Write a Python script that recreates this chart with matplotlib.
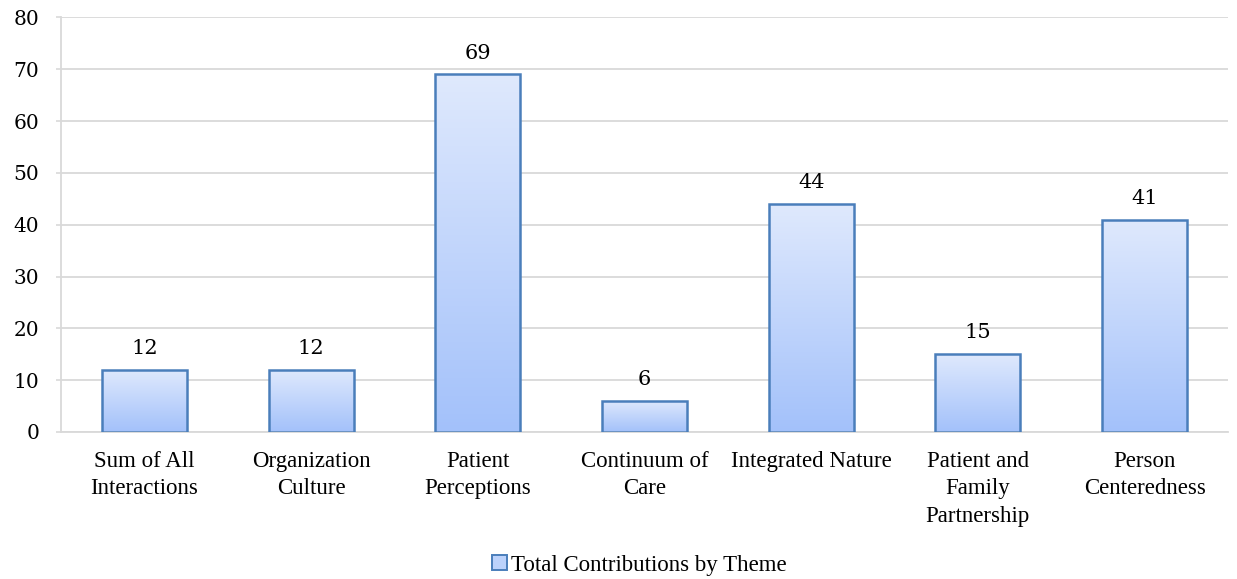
import matplotlib.pyplot as plt
import numpy as np
from matplotlib.patches import Rectangle
from matplotlib.colors import LinearSegmentedColormap

categories = ['Sum of All\nInteractions', 'Organization\nCulture', 'Patient\nPerceptions',
              'Continuum of\nCare', 'Integrated Nature', 'Patient and\nFamily\nPartnership',
              'Person\nCenteredness']
values = [12, 12, 69, 6, 44, 15, 41]
legend_label = 'Total Contributions by Theme'
y_ticks = [0, 10, 20, 30, 40, 50, 60, 70, 80]

plt.rcParams['font.family'] = ['Liberation Serif', 'DejaVu Serif']
num_font = 'DejaVu Serif'

fig = plt.figure(figsize=(12.37, 5.79), dpi=100)
ax = fig.add_axes([0.0493, 0.2539, 0.9434, 0.7159])

grad = LinearSegmentedColormap.from_list('bar', ['#A3C1FA', '#DFE9FD'])
edge = '#4A7EBB'

x = np.arange(len(values))
bars = ax.bar(x, values, width=0.51, facecolor='none', edgecolor=edge, linewidth=1.8, zorder=3)

# vertical gradient fill for each bar
g = np.linspace(0, 1, 256).reshape(-1, 1)
for b in bars:
    x0, y0 = b.get_x(), b.get_y()
    w, h = b.get_width(), b.get_height()
    im = ax.imshow(g, extent=[x0, x0 + w, y0, y0 + h], origin='lower', cmap=grad,
                   aspect='auto', zorder=2)
    im.set_clip_path(b)

for xi, v in zip(x, values):
    ax.annotate(str(v), (xi, v), xytext=(0, 8.5), textcoords='offset points',
                ha='center', va='bottom', fontsize=15, family=num_font)

ax.set_xlim(-0.5, len(values) - 0.5)
ax.set_ylim(0, 80)
ax.set_yticks(y_ticks)
ax.set_yticklabels([str(t) for t in y_ticks], family=num_font)
ax.set_xticks(x)
ax.set_xticklabels(categories, fontsize=16.5, linespacing=1.42)
ax.tick_params(axis='x', length=0, pad=13.5)
ax.tick_params(axis='y', length=3.6, color='#D9D9D9', width=1.2, labelsize=14.5, pad=12)
ax.yaxis.grid(True, color='#D9D9D9', linewidth=1.3, zorder=0)
ax.set_axisbelow(True)
for s in ['top', 'right']:
    ax.spines[s].set_visible(False)
for s in ['left', 'bottom']:
    ax.spines[s].set_color('#D9D9D9')
    ax.spines[s].set_linewidth(1.3)

handle = Rectangle((0, 0), 1, 1, facecolor='#BCD2FB', edgecolor=edge, linewidth=1.4)
fig.legend([handle], [legend_label], loc='center', bbox_to_anchor=(0.517, 0.024),
           frameon=False, fontsize=16.5, handlelength=0.65, handleheight=0.65,
           handletextpad=0.2)

fig.savefig('out.png', dpi=100)
